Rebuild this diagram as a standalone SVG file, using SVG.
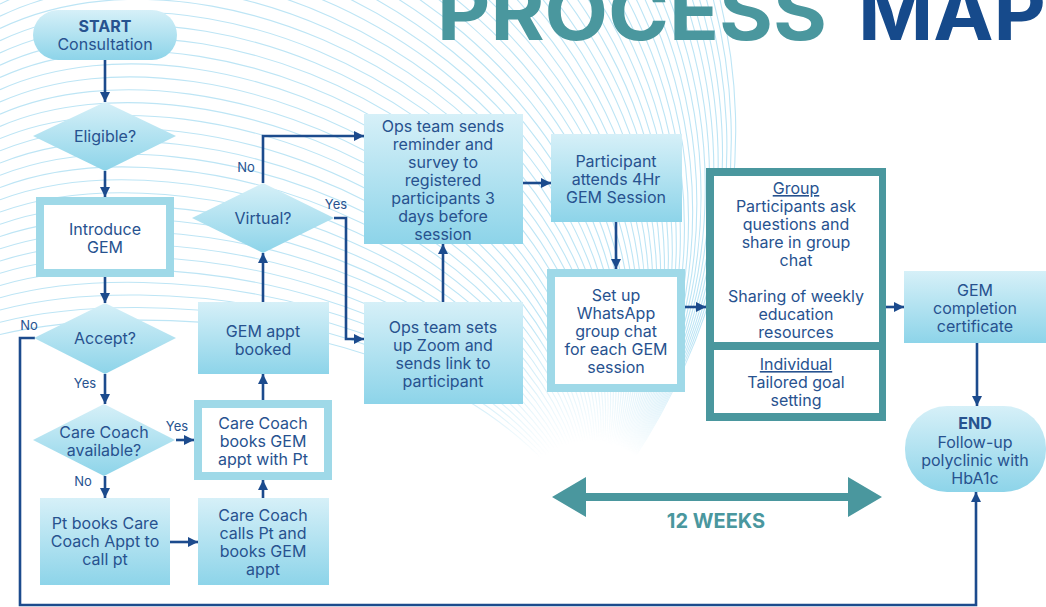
<svg xmlns="http://www.w3.org/2000/svg" width="1046" height="607" viewBox="0 0 1046 607">
<defs>
<linearGradient id="g" x1="0" y1="0" x2="0" y2="1">
<stop offset="0" stop-color="#d6f0f8"/>
<stop offset="1" stop-color="#8dd4e9"/>
</linearGradient>
<radialGradient id="fade" gradientUnits="userSpaceOnUse" cx="590" cy="520" r="260">
<stop offset="0.3" stop-color="#000"/>
<stop offset="0.8" stop-color="#fff"/>
</radialGradient>
<mask id="m" maskUnits="userSpaceOnUse" x="0" y="0" width="1046" height="607">
<rect width="1046" height="607" fill="url(#fade)"/>
</mask>
<marker id="ah" viewBox="0 0 10 10" refX="10" refY="5" markerWidth="4" markerHeight="4" orient="auto">
<path d="M0,0 L10,5 L0,10 z" fill="#1c4b8d"/>
</marker>
<style>
.t{font-family:Inter,"Noto Sans","Liberation Sans",sans-serif;font-size:16px;fill:#27528f;text-anchor:middle}
.b{font-weight:700}
.l{font-size:13px}
.u{text-decoration:underline}
.box{fill:url(#g)}
.thick{fill:#9fd9e8}
.inner{fill:#fff}
.conn{stroke:#1c4b8d;stroke-width:2.6;fill:none;marker-end:url(#ah)}
.bg{stroke:#bde5f5;stroke-width:1.1;fill:none}
</style>
</defs>
<rect width="1046" height="607" fill="#fff"/>
<g id="background" mask="url(#m)">
<path class="bg" d="M0,334.5 C141.4,301.4 461.4,311 590,520"/>
<path class="bg" d="M0,322.2 C145.7,285.7 470.7,305.5 590,520"/>
<path class="bg" d="M0,310 C150,270 480,300 590,520"/>
<path class="bg" d="M0,297.75 C154.3,254.3 489.3,294.5 590,520"/>
<path class="bg" d="M0,285.5 C158.6,238.6 498.6,289 590,520"/>
<path class="bg" d="M0,273.25 C162.9,222.9 507.9,283.45 590,520"/>
<path class="bg" d="M0,261 C167.2,207.2 517.2,277.9 590,520"/>
<path class="bg" d="M0,248.8 C171.55,191.55 526.55,272.4 590,520"/>
<path class="bg" d="M0,236.6 C175.9,175.9 535.9,266.9 590,520"/>
<path class="bg" d="M0,224.35 C180.2,160.2 545.2,261.4 590,520"/>
<path class="bg" d="M0,212.1 C184.5,144.5 554.5,255.9 590,520"/>
<path class="bg" d="M0,199.85 C188.8,128.8 563.8,250.35 590,520"/>
<path class="bg" d="M0,187.6 C193.1,113.1 573.1,244.8 590,520"/>
<path class="bg" d="M0,175.35 C197.4,97.4 582.4,239.3 590,520"/>
<path class="bg" d="M0,163.1 C201.7,81.7 591.7,233.8 590,520"/>
<path class="bg" d="M0,150.85 C206,66 601,228.3 590,520"/>
<path class="bg" d="M0,138.6 C210.3,50.3 610.3,222.8 590,520"/>
<path class="bg" d="M0,126.4 C214.65,34.65 619.65,217.3 590,520"/>
<path class="bg" d="M0,114.2 C219,19 629,211.8 590,520"/>
<path class="bg" d="M0,101.95 C223.3,3.3 638.3,206.25 590,520"/>
<path class="bg" d="M0,89.7 C227.6,-12.4 647.6,200.7 590,520"/>
<path class="bg" d="M0,77.45 C231.9,-28.1 656.9,195.2 590,520"/>
<path class="bg" d="M0,65.2 C236.2,-43.8 666.2,189.7 590,520"/>
<path class="bg" d="M0,52.95 C240.5,-59.5 675.5,184.2 590,520"/>
<path class="bg" d="M0,40.7 C244.8,-75.2 684.8,178.7 590,520"/>
<path class="bg" d="M0,28.45 C249.1,-90.9 694.1,173.15 590,520"/>
<path class="bg" d="M0,16.2 C253.4,-106.6 703.4,167.6 590,520"/>
<path class="bg" d="M0,4 C257.75,-122.25 712.75,162.1 590,520"/>
<path class="bg" d="M0,-8.2 C262.1,-137.9 722.1,156.6 590,520"/>
<path class="bg" d="M0,-20.45 C266.4,-153.6 731.4,151.1 590,520"/>
<path class="bg" d="M0,-32.7 C270.7,-169.3 740.7,145.6 590,520"/>
<path class="bg" d="M0,-44.95 C275,-185 750,140.05 590,520"/>
<path class="bg" d="M0,-57.2 C279.3,-200.7 759.3,134.5 590,520"/>
<path class="bg" d="M0,-69.45 C283.6,-216.4 768.6,129 590,520"/>
<path class="bg" d="M0,-81.7 C287.9,-232.1 777.9,123.5 590,520"/>
<path class="bg" d="M0,-93.95 C292.2,-247.8 787.2,118 590,520"/>
<path class="bg" d="M0,-106.2 C296.5,-263.5 796.5,112.5 590,520"/>
<path class="bg" d="M0,-118.4 C300.85,-279.15 805.85,107 590,520"/>
<path class="bg" d="M0,-130.6 C305.2,-294.8 815.2,101.5 590,520"/>
<path class="bg" d="M0,-142.85 C309.5,-310.5 824.5,95.95 590,520"/>
<path class="bg" d="M0,-155.1 C313.8,-326.2 833.8,90.4 590,520"/>
<path class="bg" d="M0,-167.35 C318.1,-341.9 843.1,84.9 590,520"/>
<path class="bg" d="M0,-179.6 C322.4,-357.6 852.4,79.4 590,520"/>
<path class="bg" d="M0,-191.85 C326.7,-373.3 861.7,73.9 590,520"/>
<path class="bg" d="M0,-204.1 C331,-389 871,68.4 590,520"/>
<path class="bg" d="M0,-216.35 C335.3,-404.7 880.3,62.85 590,520"/>
<path class="bg" d="M0,-228.6 C339.6,-420.4 889.6,57.3 590,520"/>
<path class="bg" d="M0,-240.8 C343.95,-436.05 898.95,51.8 590,520"/>
<path class="bg" d="M0,-253 C348.3,-451.7 908.3,46.3 590,520"/>
<path class="bg" d="M0,-265.25 C352.6,-467.4 917.6,40.8 590,520"/>
<path class="bg" d="M0,-277.5 C356.9,-483.1 926.9,35.3 590,520"/>
<path class="bg" d="M0,-289.75 C361.2,-498.8 936.2,29.75 590,520"/>
<path class="bg" d="M0,-302 C365.5,-514.5 945.5,24.2 590,520"/>
<path class="bg" d="M0,-314.25 C369.8,-530.2 954.8,18.7 590,520"/>
<path class="bg" d="M0,-326.5 C374.1,-545.9 964.1,13.2 590,520"/>
<path class="bg" d="M0,-338.75 C378.45,-561.55 973.45,7.7 590,520"/>
<path class="bg" d="M0,-351 C382.8,-577.2 982.8,2.2 590,520"/>
<path class="bg" d="M0,-363.2 C387.1,-592.9 992.1,-3.3 590,520"/>
<path class="bg" d="M0,-375.4 C391.4,-608.6 1001.4,-8.8 590,520"/>
<path class="bg" d="M0,-387.7 C395.7,-624.3 1010.7,-14.4 590,520"/>
<path class="bg" d="M0,-400 C400,-640 1020,-20 590,520"/>
</g>
<g id="title">
<text x="437" y="40" font-family="Inter,'Liberation Sans',sans-serif" font-weight="700" font-size="78" fill="#4a979e" textLength="390" lengthAdjust="spacingAndGlyphs">PROCESS</text>
<text x="858" y="40" font-family="Inter,'Liberation Sans',sans-serif" font-weight="700" font-size="78" fill="#164a8b" textLength="188" lengthAdjust="spacingAndGlyphs">MAP</text>
</g>
<g id="connectors">
<path class="conn" d="M105,60 V102"/>
<path class="conn" d="M105,171 V197"/>
<path class="conn" d="M105,277 V303"/>
<path class="conn" d="M105,374 V404"/>
<path class="conn" d="M176,440 H194"/>
<path class="conn" d="M105,476 V498"/>
<path class="conn" d="M170,542 H198"/>
<path class="conn" d="M263,498 V480"/>
<path class="conn" d="M263,400 V374"/>
<path class="conn" d="M263,302 V253"/>
<path class="conn" d="M263,183 V136 H364"/>
<path class="conn" d="M334,218 H346 V339 H364"/>
<path class="conn" d="M443,302 V244"/>
<path class="conn" d="M523,183 H551"/>
<path class="conn" d="M616,222 V269"/>
<path class="conn" d="M685,307 H706"/>
<path class="conn" d="M886,307 H904"/>
<path class="conn" d="M977,343 V406"/>
<path class="conn" d="M35,338 H20 V605 H976 V492"/>
<text class="t l" x="246" y="172">No</text>
<text class="t l" x="336" y="209">Yes</text>
<text class="t l" x="29" y="330">No</text>
<text class="t l" x="85" y="388">Yes</text>
<text class="t l" x="177" y="431">Yes</text>
<text class="t l" x="83" y="486">No</text>
</g>
<g id="start">
<rect class="box" x="33" y="10" width="144" height="50" rx="25"/>
<text class="t b" x="105" y="32">START</text>
<text class="t" x="105" y="50">Consultation</text>
</g>
<g id="eligible">
<polygon class="box" points="105,102 176,136 105,171 33,136"/>
<text class="t" x="105" y="142">Eligible?</text>
</g>
<g id="introduce">
<rect class="thick" x="36" y="197" width="138" height="80"/>
<rect class="inner" x="44" y="205" width="122" height="64"/>
<text class="t" x="105" y="235">Introduce</text>
<text class="t" x="105" y="253">GEM</text>
</g>
<g id="accept">
<polygon class="box" points="105,303 176,338 105,374 34,338"/>
<text class="t" x="105" y="344">Accept?</text>
</g>
<g id="carecoach">
<polygon class="box" points="104,404 175,440 104,476 33,440"/>
<text class="t" x="104" y="438">Care Coach</text>
<text class="t" x="104" y="456">available?</text>
</g>
<g id="ptbooks">
<rect class="box" x="40" y="498" width="130" height="87"/>
<text class="t" x="105" y="529">Pt books Care</text>
<text class="t" x="105" y="547">Coach Appt to</text>
<text class="t" x="105" y="565">call pt</text>
</g>
<g id="cccalls">
<rect class="box" x="198" y="498" width="131" height="87"/>
<text class="t" x="263" y="521">Care Coach</text>
<text class="t" x="263" y="539">calls Pt and</text>
<text class="t" x="263" y="557">books GEM</text>
<text class="t" x="263" y="575">appt</text>
</g>
<g id="ccbooks">
<rect class="thick" x="194" y="400" width="138" height="80"/>
<rect class="inner" x="202" y="408" width="122" height="64"/>
<text class="t" x="263" y="429">Care Coach</text>
<text class="t" x="263" y="447">books GEM</text>
<text class="t" x="263" y="465">appt with Pt</text>
</g>
<g id="gemappt">
<rect class="box" x="198" y="302" width="131" height="72"/>
<text class="t" x="263" y="337">GEM appt</text>
<text class="t" x="263" y="355">booked</text>
</g>
<g id="virtual">
<polygon class="box" points="263,183 334,218 263,253 192,218"/>
<text class="t" x="263" y="224">Virtual?</text>
</g>
<g id="opssends">
<rect class="box" x="364" y="114" width="159" height="130"/>
<text class="t" x="443" y="132">Ops team sends</text>
<text class="t" x="443" y="150">reminder and</text>
<text class="t" x="443" y="168">survey to</text>
<text class="t" x="443" y="186">registered</text>
<text class="t" x="443" y="204">participants 3</text>
<text class="t" x="443" y="222">days before</text>
<text class="t" x="443" y="240">session</text>
</g>
<g id="opssets">
<rect class="box" x="364" y="302" width="159" height="102"/>
<text class="t" x="443" y="333">Ops team sets</text>
<text class="t" x="443" y="351">up Zoom and</text>
<text class="t" x="443" y="369">sends link to</text>
<text class="t" x="443" y="387">participant</text>
</g>
<g id="participant">
<rect class="box" x="551" y="134" width="131" height="88"/>
<text class="t" x="616" y="167">Participant</text>
<text class="t" x="616" y="185">attends 4Hr</text>
<text class="t" x="616" y="203">GEM Session</text>
</g>
<g id="whatsapp">
<rect class="thick" x="547" y="269" width="138" height="123"/>
<rect class="inner" x="555" y="277" width="122" height="107"/>
<text class="t" x="616" y="301">Set up</text>
<text class="t" x="616" y="319">WhatsApp</text>
<text class="t" x="616" y="337">group chat</text>
<text class="t" x="616" y="355">for each GEM</text>
<text class="t" x="616" y="373">session</text>
</g>
<g id="group">
<rect x="706" y="168" width="180" height="253" fill="#4a979e"/>
<rect class="inner" x="714" y="176" width="165" height="166"/>
<rect class="inner" x="714" y="350" width="165" height="63"/>
<text class="t u" x="796" y="194">Group</text>
<text class="t" x="796" y="212">Participants ask</text>
<text class="t" x="796" y="230">questions and</text>
<text class="t" x="796" y="248">share in group</text>
<text class="t" x="796" y="266">chat</text>
<text class="t" x="796" y="302">Sharing of weekly</text>
<text class="t" x="796" y="320">education</text>
<text class="t" x="796" y="338">resources</text>
<text class="t u" x="796" y="370">Individual</text>
<text class="t" x="796" y="388">Tailored goal</text>
<text class="t" x="796" y="406">setting</text>
</g>
<g id="completion">
<rect class="box" x="904" y="271" width="142" height="72"/>
<text class="t" x="975" y="296">GEM</text>
<text class="t" x="975" y="314">completion</text>
<text class="t" x="975" y="332">certificate</text>
</g>
<g id="end">
<rect class="box" x="905" y="406" width="141" height="86" rx="42"/>
<text class="t b" x="975" y="429">END</text>
<text class="t" x="975" y="448">Follow-up</text>
<text class="t" x="975" y="466">polyclinic with</text>
<text class="t" x="975" y="484">HbA1c</text>
</g>
<g id="weeks">
<polygon points="552,497 586,477 586,493 848,493 848,477 882,497 848,517 848,501 586,501 586,517" fill="#4a979e"/>
<text x="716" y="528" font-family="Inter,'Liberation Sans',sans-serif" font-weight="700" font-size="20" fill="#4a979e" text-anchor="middle">12 WEEKS</text>
</g>
</svg>
